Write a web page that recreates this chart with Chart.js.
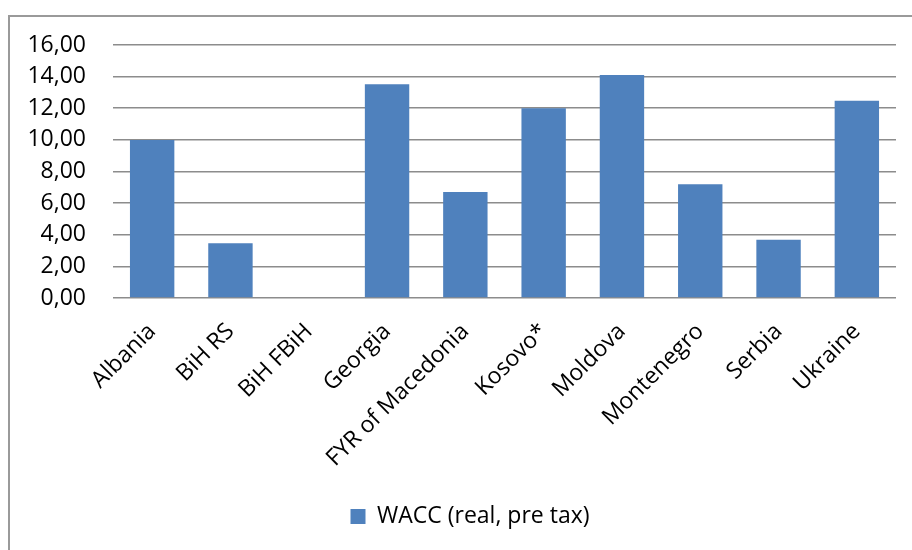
<!DOCTYPE html>
<html lang="en">
<head>
    <meta charset="UTF-8">
    <title>WACC (real, pre tax)</title>
    <script src="https://cdn.jsdelivr.net/npm/chart.js"></script>
    <style>
        html, body { margin: 0; padding: 0; background: #fff; overflow: hidden; }
        .frame {
            position: absolute; left: 8px; top: 15px;
            width: 1000px; height: 600px;
            border: 2px solid #9a9a9a;
        }
        .wrap { position: absolute; left: 0; top: 0; width: 912px; height: 550px; }
    </style>
</head>
<body>
    <div class="frame"></div>
    <div class="wrap">
        <canvas id="waccChart" width="912" height="550"></canvas>
    </div>

    <script>
        // Countries and WACC values (real, pre tax), %
        const countries = ['Albania', 'BiH RS', 'BiH FBiH', 'Georgia', 'FYR of Macedonia',
                           'Kosovo*', 'Moldova', 'Montenegro', 'Serbia', 'Ukraine'];
        const waccValues = [10.0, 3.47, null, 13.52, 6.7, 12.0, 14.11, 7.2, 3.68, 12.48];
        const seriesName = 'WACC (real, pre tax)';
        const yTicks = [0, 2, 4, 6, 8, 10, 12, 14, 16];

        const fontFamily = '"Open Sans", sans-serif';

        // nudge the legend a little right so it sits under the plot centre
        const legendShift = {
            id: 'legendShift',
            afterLayout(chart) {
                chart.legend.left += 22;
                chart.legend.right += 22;
            }
        };

        const ctx = document.getElementById('waccChart').getContext('2d');
        const chart = new Chart(ctx, {
            type: 'bar',
            data: {
                labels: countries,
                datasets: [{
                    label: seriesName,
                    data: waccValues,
                    backgroundColor: '#4f81bd',
                    borderWidth: 0,
                    barPercentage: 0.567,
                    categoryPercentage: 1.0
                }]
            },
            plugins: [legendShift],
            options: {
                responsive: false,
                animation: false,
                layout: { padding: { left: 0, right: 16, top: 45, bottom: 12 } },
                plugins: {
                    legend: {
                        position: 'bottom',
                        labels: {
                            color: '#000',
                            font: { family: fontFamily, size: 23 },
                            boxWidth: 15,
                            boxHeight: 15,
                            padding: 10
                        }
                    },
                    tooltip: { enabled: false }
                },
                scales: {
                    x: {
                        border: { display: false },
                        grid: { display: false },
                        ticks: {
                            color: '#000',
                            font: { family: fontFamily, size: 23 },
                            maxRotation: 45,
                            minRotation: 45,
                            padding: 12,
                            autoSkip: false
                        },
                        afterFit(scale) { scale.height = 197; }
                    },
                    y: {
                        min: 0,
                        max: 16,
                        border: { display: false },
                        grid: { color: '#8c8c8c', lineWidth: 1.6, drawTicks: false },
                        afterBuildTicks(scale) {
                            scale.ticks = yTicks.map(v => ({ value: v }));
                        },
                        ticks: {
                            color: '#000',
                            font: { family: fontFamily, size: 23 },
                            padding: 27,
                            callback: v => v.toFixed(2).replace('.', ',')
                        },
                        afterFit(scale) { scale.width = 113; }
                    }
                }
            }
        });
    </script>
</body>
</html>
